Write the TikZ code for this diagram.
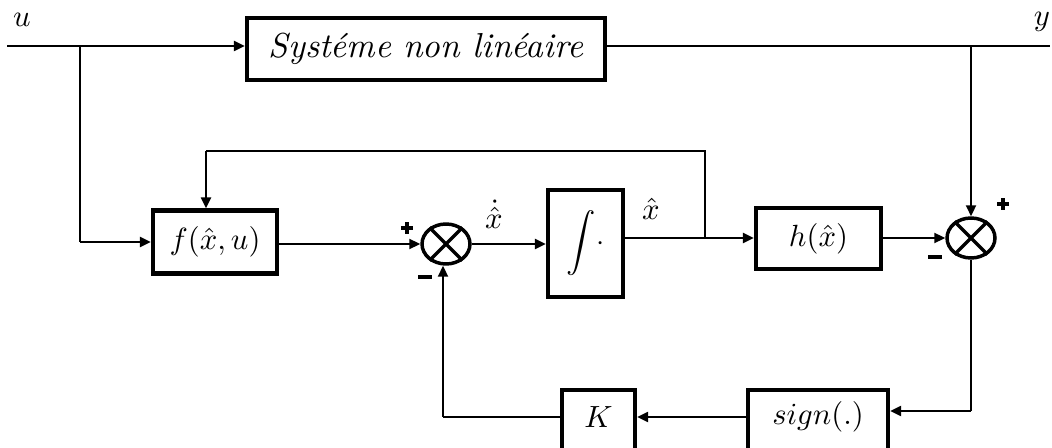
\documentclass[tikz,border=0pt]{standalone}
\usepackage{amsmath,amssymb,graphicx}
\usetikzlibrary{arrows.meta,shapes.geometric}
\newdimen\px \px=0.75pt
\newcommand{\bigtxt}[1]{\scalebox{2.3}{#1}}
\tikzset{
  x=0.75pt, y=-0.75pt,
  blk/.style={draw, line width=3.2pt, inner sep=0pt},
  sumnode/.style={draw, ellipse, line width=2.6pt, minimum width=48\px, minimum height=40\px, inner sep=0pt},
  wire/.style={line width=1.6pt},
  arr/.style={wire, -{Triangle[length=8.25pt,width=7.5pt]}},
  lbl/.style={inner sep=0pt},
  plusbar/.style={fill, inner sep=0pt, minimum width=9pt, minimum height=3pt},
  plusvbar/.style={fill, inner sep=0pt, minimum width=3pt, minimum height=9pt},
  minusbar/.style={fill, inner sep=0pt, minimum width=11pt, minimum height=3.5pt}
}
\begin{document}
\begin{tikzpicture}
\useasboundingbox (0,0) rectangle (1052,448);
\clip (0,0) rectangle (1052,448);
% blocks
\node[blk, minimum width=358\px, minimum height=62\px] (sys) at (426,49) {\scalebox{2.6}{\textit{Systéme non linéaire}}};
\node[blk, minimum width=124\px, minimum height=63\px] (f) at (215,242) {\bigtxt{$f(\hat{x},u)$}};
\node[blk, minimum width=75\px, minimum height=107\px] (int) at (585.5,243.5) {\scalebox{2.2}{$\displaystyle\int\!\cdot$}};
\node[blk, minimum width=125\px, minimum height=61\px] (h) at (818.5,238.5) {\bigtxt{$h(\hat{x})$}};
\node[blk, minimum width=140\px, minimum height=70\px, anchor=north] (sgnb) at (818,388) {};
\node[lbl] at (818,417) {\bigtxt{$sign(.)$}};
\node[blk, minimum width=73\px, minimum height=70\px, anchor=north] (K) at (598.5,388) {};
\node[lbl] at (598.5,417) {\bigtxt{$K$}};
% summing junctions
\node[sumnode] (s1) at (446,244) {};
\draw[line width=2.6pt] (s1.45) -- (s1.225) (s1.135) -- (s1.315);
\node[sumnode] (s2) at (971,238) {};
\draw[line width=2.6pt] (s2.45) -- (s2.225) (s2.135) -- (s2.315);
% coordinates
\coordinate (uin) at (7,46);
\coordinate (yout) at (1050,46);
\coordinate (bu) at (80,46);
\coordinate (bud) at (80,242);
\coordinate (by) at (971,46);
\coordinate (bx) at (705,238);
\coordinate (fbtop) at (705,151);
\coordinate (fbl) at (206,151);
\coordinate (s2d) at (971,411);
\coordinate (kl) at (443,417);
\coordinate (kr) at (0,417);
% connectors
\draw[arr] (uin) -- (sys.west |- uin);
\draw[wire] (sys.east |- uin) -- (yout);
\draw[wire] (bu) -- (bud);
\draw[arr] (bud) -- (f.west |- bud);
\draw[arr] (by) -- (s2.north);
\draw[arr] (f.east |- s1) -- (s1.west);
\draw[arr] (s1.east) -- (int.west |- s1);
\draw[wire] (int.east |- bx) -- (bx);
\draw[wire] (bx) -- (fbtop) -- (fbl);
\draw[arr] (fbl) -- (fbl |- f.north);
\draw[arr] (bx) -- (h.west |- bx);
\draw[arr] (h.east |- s2) -- (s2.west);
\draw[wire] (s2.south) -- (s2d);
\draw[arr] (s2d) -- (sgnb.east |- s2d);
\draw[arr] (sgnb.west |- kr) -- (K.east |- kr);
\draw[wire] (K.west |- kl) -- (kl);
\draw[arr] (kl) -- (kl |- s1.south);
% labels
\node[lbl] at (22,20) {\bigtxt{$u$}};
\node[lbl] at (1042,22) {\bigtxt{$y$}};
\node[lbl] at (494,214) {\bigtxt{$\dot{\hat{x}}$}};
\node[lbl] at (651,209) {\bigtxt{$\hat{x}$}};
\node[plusbar] at (407,228) {};
\node[plusvbar] at (407,228) {};
\node[minusbar] at (425,277) {};
\node[plusbar] at (1003,204) {};
\node[plusvbar] at (1003,204) {};
\node[minusbar] at (935,257) {};
\end{tikzpicture}
\end{document}
